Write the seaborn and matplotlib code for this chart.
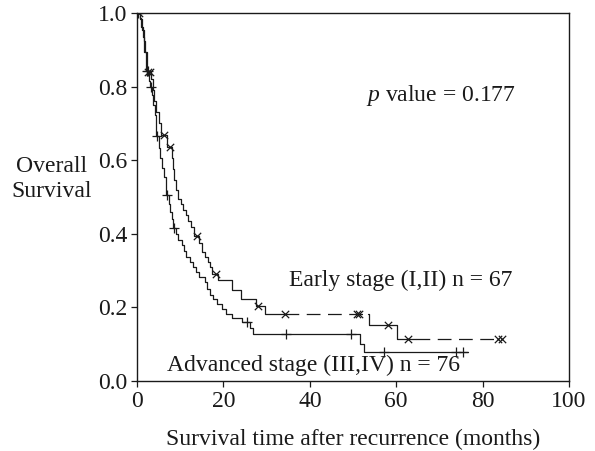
import numpy as np
import matplotlib
matplotlib.use("Agg")
import matplotlib.pyplot as plt
import seaborn as sns

# Kaplan-Meier steps (time in months, survival)
early_t = [0, 0.7, 1.1, 1.5, 1.9, 2.2, 2.4, 3.3, 3.6, 4.0, 4.5, 5.0, 5.6, 7.0, 8.0, 8.3,
           8.6, 9.0, 9.5, 10.1, 10.7, 11.3, 11.9, 12.5, 13.2, 14.4, 15.0, 15.7, 16.5, 17.0,
           17.4, 18.8, 22.0, 24.1, 27.5, 29.6, 53.8, 60.1]
early_s = [1.0, 0.985, 0.955, 0.925, 0.895, 0.865, 0.84, 0.82, 0.79, 0.76, 0.73, 0.70, 0.668,
           0.637, 0.607, 0.576, 0.546, 0.52, 0.495, 0.48, 0.465, 0.45, 0.434, 0.419, 0.394,
           0.375, 0.351, 0.338, 0.324, 0.31, 0.291, 0.274, 0.247, 0.222, 0.204, 0.181, 0.152,
           0.113]
early_end = 84.4
early_cens = [0.4, 2.6, 3.0, 6.2, 7.6, 13.8, 18.3, 28.0, 34.3, 51.0, 51.4, 58.2, 62.8, 83.6, 84.4]

adv_t = [0, 0.6, 1.0, 1.4, 1.7, 2.0, 2.8, 3.0, 3.5, 3.8, 4.1, 4.4, 5.0, 5.4, 5.8, 6.2, 6.6,
         6.8, 7.3, 7.7, 8.1, 8.4, 9.0, 9.6, 10.3, 10.9, 11.4, 12.2, 12.9, 13.6, 14.4, 15.7,
         16.3, 16.9, 17.6, 18.4, 19.6, 20.5, 22.0, 24.2, 26.2, 26.8, 51.6, 52.5]
adv_s = [1.0, 0.987, 0.961, 0.934, 0.895, 0.842, 0.816, 0.80, 0.776, 0.75, 0.724, 0.666,
         0.632, 0.605, 0.579, 0.553, 0.526, 0.505, 0.48, 0.46, 0.44, 0.415, 0.40, 0.383,
         0.369, 0.352, 0.338, 0.324, 0.31, 0.296, 0.283, 0.268, 0.25, 0.234, 0.222, 0.21,
         0.196, 0.182, 0.17, 0.16, 0.143, 0.127, 0.10, 0.078]
adv_end = 76.7
adv_cens = [0.3, 2.2, 2.5, 3.2, 4.6, 6.9, 8.6, 25.4, 34.6, 49.5, 57.2, 73.8, 75.4]

x_ticks = [0, 20, 40, 60, 80, 100]
y_ticks = [0.0, 0.2, 0.4, 0.6, 0.8, 1.0]

# early-stage curve: which stretches are solid / dashed
dash = (0, (11, 6))
early_pieces = [(0, 34.3, "-"), (34.3, 53.5, dash), (53.5, 64.5, "-"), (64.5, early_end, dash)]


def level(t, s, x):
    return s[np.searchsorted(t, x, side="right") - 1]


def piece(t, s, a, b):
    xs = [a] + [x for x in t if a < x < b] + [b]
    return xs, [level(t, s, x) for x in xs]


sns.set_style("ticks")
plt.rcParams["font.family"] = ["Liberation Serif", "DejaVu Serif"]
plt.rcParams["mathtext.fontset"] = "custom"
plt.rcParams["mathtext.it"] = "Liberation Serif:italic"
plt.rcParams["mathtext.rm"] = "Liberation Serif"

fig = plt.figure(figsize=(5.95, 4.51), dpi=100)
ax = fig.add_axes([0.2303, 0.1552, 0.726, 0.816])

ink = "#1a1a1a"
lw = 0.9
fs = 17

# advanced stage - solid
xs, ys = piece(adv_t, adv_s, 0, adv_end)
sns.lineplot(x=xs, y=ys, ax=ax, color=ink, lw=lw, drawstyle="steps-post", estimator=None, sort=False)
sns.scatterplot(x=adv_cens, y=[level(adv_t, adv_s, c) for c in adv_cens], ax=ax,
                marker="+", s=55, color=ink, linewidth=0.9, zorder=3)

# early stage
for a, b, ls in early_pieces:
    xs, ys = piece(early_t, early_s, a, b)
    ax.plot(xs, ys, color=ink, lw=lw, ls=ls, drawstyle="steps-post")
sns.scatterplot(x=early_cens, y=[level(early_t, early_s, c) for c in early_cens], ax=ax,
                marker="x", s=28, color=ink, linewidth=0.9, zorder=3)

ax.set_xlim(0, 100)
ax.set_ylim(0, 1)
ax.set_xticks(x_ticks)
ax.set_yticks(y_ticks)
ax.set_xticklabels([str(v) for v in x_ticks])
ax.set_yticklabels([f"{v:.1f}" for v in y_ticks])
ax.tick_params(direction="out", length=4, width=0.9, labelsize=fs, colors=ink, pad=3)
for sp in ax.spines.values():
    sp.set_linewidth(1.0)
    sp.set_color(ink)
    sp.set_visible(True)

ax.set_xlabel("Survival time after recurrence (months)", fontsize=fs, color=ink, labelpad=12)
ax.text(-0.197, 0.549, "Overall\nSurvival", transform=ax.transAxes, fontsize=fs, color=ink,
        ha="center", va="center", linespacing=1.2)

ax.text(53.0, 0.775, r"$p$ value = 0.177", fontsize=fs, color=ink, va="center")
ax.text(35.2, 0.274, "Early stage (I,II) n = 67", fontsize=fs, color=ink, va="center")
ax.text(6.9, 0.043, "Advanced stage (III,IV) n = 76", fontsize=fs, color=ink, va="center")

fig.savefig("out.png", dpi=100)
